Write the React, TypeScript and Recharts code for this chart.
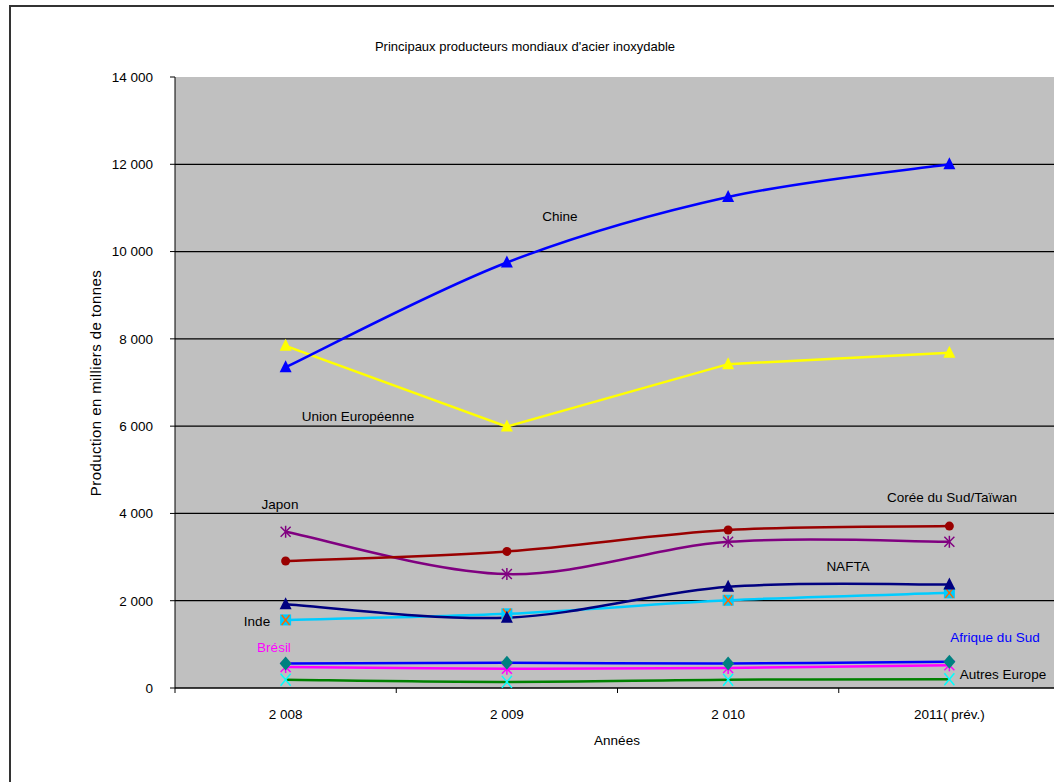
import { LineChart, Line, XAxis, YAxis, CartesianGrid } from 'recharts';

const YEARS = ['2 008', '2 009', '2 010', '2011( prév.)'];
const Y_TICKS = [0, 2000, 4000, 6000, 8000, 10000, 12000, 14000];

const chine = [7350, 9750, 11250, 12000];
const unionEuropeenne = [7840, 5990, 7420, 7680];
const coreeTaiwan = [2910, 3130, 3620, 3710];
const japon = [3580, 2610, 3350, 3350];
const nafta = [1920, 1610, 2320, 2370];
const inde = [1560, 1700, 2010, 2180];
const afriqueSud = [560, 580, 560, 600];
const bresil = [480, 440, 460, 520];
const autresEurope = [190, 140, 190, 200];

const data = YEARS.map((label, i) => ({
  i,
  label,
  chine: chine[i],
  ue: unionEuropeenne[i],
  coree: coreeTaiwan[i],
  japon: japon[i],
  nafta: nafta[i],
  inde: inde[i],
  afrique: afriqueSud[i],
  bresil: bresil[i],
  autres: autresEurope[i],
}));

const FONT = '"Liberation Sans", Arial, sans-serif';
const FS = 13.5;

const fmt = (v: number) => (v >= 1000 ? `${Math.floor(v / 1000)} ${String(v % 1000).padStart(3, '0')}` : String(v));

// Excel-like smoothed line (catmull-rom style bezier), used as a d3 curve factory
const excelSmooth = (ctx: any) => {
  let pts: number[][] = [];
  return {
    areaStart() {},
    areaEnd() {},
    lineStart() {
      pts = [];
    },
    point(x: number, y: number) {
      pts.push([+x, +y]);
    },
    lineEnd() {
      if (!pts.length) return;
      ctx.moveTo(pts[0][0], pts[0][1]);
      const t = 1 / 6;
      for (let k = 0; k < pts.length - 1; k++) {
        const p0 = pts[Math.max(k - 1, 0)];
        const p1 = pts[k];
        const p2 = pts[k + 1];
        const p3 = pts[Math.min(k + 2, pts.length - 1)];
        ctx.bezierCurveTo(
          p1[0] + (p2[0] - p0[0]) * t,
          p1[1] + (p2[1] - p0[1]) * t,
          p2[0] - (p3[0] - p1[0]) * t,
          p2[1] - (p3[1] - p1[1]) * t,
          p2[0],
          p2[1],
        );
      }
    },
  };
};

// marker shapes, roughly like the old Excel ones
const triangle = (fill: string) => (p: any) => (
  <polygon key={p.key} points={`${p.cx},${p.cy - 7} ${p.cx - 6},${p.cy + 5} ${p.cx + 6},${p.cy + 5}`} fill={fill} />
);
const circle = (fill: string) => (p: any) => <circle key={p.key} cx={p.cx} cy={p.cy} r={4.5} fill={fill} />;
const asterisk = (stroke: string) => (p: any) => (
  <g key={p.key} stroke={stroke} strokeWidth={1.5}>
    <line x1={p.cx - 5} y1={p.cy - 5} x2={p.cx + 5} y2={p.cy + 5} />
    <line x1={p.cx - 5} y1={p.cy + 5} x2={p.cx + 5} y2={p.cy - 5} />
    <line x1={p.cx} y1={p.cy - 6} x2={p.cx} y2={p.cy + 6} />
  </g>
);
const squareX = (fill: string, stroke: string) => (p: any) => (
  <g key={p.key}>
    <rect x={p.cx - 5.5} y={p.cy - 5.5} width={11} height={11} fill={fill} />
    <g stroke={stroke} strokeWidth={1.5}>
      <line x1={p.cx - 4} y1={p.cy - 5} x2={p.cx + 4} y2={p.cy + 5} />
      <line x1={p.cx - 4} y1={p.cy + 5} x2={p.cx + 4} y2={p.cy - 5} />
    </g>
  </g>
);
const diamond = (fill: string) => (p: any) => (
  <polygon key={p.key} points={`${p.cx},${p.cy - 7} ${p.cx + 6},${p.cy} ${p.cx},${p.cy + 7} ${p.cx - 6},${p.cy}`} fill={fill} />
);
const cross = (stroke: string) => (p: any) => (
  <g key={p.key} stroke={stroke} strokeWidth={1.5}>
    <line x1={p.cx - 5} y1={p.cy - 6} x2={p.cx + 5} y2={p.cy + 6} />
    <line x1={p.cx - 5} y1={p.cy + 6} x2={p.cx + 5} y2={p.cy - 6} />
  </g>
);

const XTick = (props: any) => {
  const { x, y, payload } = props;
  const v = payload.value;
  if (!Number.isInteger(v)) {
    return <line x1={x} x2={x} y1={y} y2={y + 5} stroke="#000" />;
  }
  return (
    <text x={x} y={y + 31} textAnchor="middle" fontSize={FS} fill="#000" fontFamily={FONT}>
      {YEARS[v]}
    </text>
  );
};

const note = (text: string, x: number, y: number, color = '#000', size = FS) => (
  <div
    style={{
      position: 'absolute',
      left: x,
      top: y,
      transform: 'translate(-50%, -50%)',
      whiteSpace: 'nowrap',
      fontFamily: FONT,
      fontSize: size,
      color,
    }}
  >
    {text}
  </div>
);

export default function App() {
  return (
    <div style={{ position: 'absolute', left: 0, top: 0, width: 1054, height: 782, overflow: 'hidden', background: '#fff' }}>
      <div style={{ position: 'absolute', left: 9, top: 5, width: 1100, height: 820, border: '2px solid #333' }} />
      <div style={{ position: 'absolute', left: 0, top: 0 }}>
        <LineChart width={1080} height={782} data={data} margin={{ top: 77, right: 20, bottom: 64, left: 115 }}>
          <CartesianGrid
            vertical={false}
            horizontalValues={[2000, 4000, 6000, 8000, 10000, 12000]}
            stroke="#000"
            strokeWidth={1.2}
            fill="#c0c0c0"
          />
          <XAxis
            dataKey="i"
            type="number"
            domain={[-0.5, 3.5]}
            ticks={[-0.5, 0, 0.5, 1, 1.5, 2, 2.5, 3, 3.5]}
            tick={<XTick />}
            tickLine={false}
            tickSize={0}
            tickMargin={0}
            axisLine={{ stroke: '#000', strokeWidth: 1.5 }}
            height={30}
            interval={0}
          />
          <YAxis
            domain={[0, 14000]}
            ticks={Y_TICKS}
            tickFormatter={fmt}
            width={60}
            tickSize={5}
            tickMargin={17}
            axisLine={{ stroke: '#000' }}
            tickLine={{ stroke: '#000' }}
            tick={{ fontSize: FS, fill: '#000', fontFamily: FONT }}
            interval={0}
          />
          <Line dataKey="autres" type={excelSmooth} stroke="#008000" strokeWidth={2.5} dot={cross('#00ffff')} isAnimationActive={false} />
          <Line dataKey="bresil" type={excelSmooth} stroke="#ff00ff" strokeWidth={2.5} dot={asterisk('#ff00ff')} isAnimationActive={false} />
          <Line dataKey="afrique" type={excelSmooth} stroke="#0000ff" strokeWidth={2.5} dot={diamond('#008080')} isAnimationActive={false} />
          <Line dataKey="inde" type={excelSmooth} stroke="#00ccff" strokeWidth={2.5} dot={squareX('#00ccff', '#ff6600')} isAnimationActive={false} />
          <Line dataKey="nafta" type={excelSmooth} stroke="#000080" strokeWidth={2.5} dot={triangle('#000080')} isAnimationActive={false} />
          <Line dataKey="japon" type={excelSmooth} stroke="#800080" strokeWidth={2.5} dot={asterisk('#800080')} isAnimationActive={false} />
          <Line dataKey="coree" type={excelSmooth} stroke="#990000" strokeWidth={2.5} dot={circle('#990000')} isAnimationActive={false} />
          <Line dataKey="ue" type="linear" stroke="#ffff00" strokeWidth={2.5} dot={triangle('#ffff00')} isAnimationActive={false} />
          <Line dataKey="chine" type={excelSmooth} stroke="#0000ff" strokeWidth={2.5} dot={triangle('#0000ff')} isAnimationActive={false} />
        </LineChart>
      </div>
      {note("Principaux producteurs mondiaux d'acier inoxydable", 525, 46, '#000', 13)}
      {note('Années', 617, 740)}
      <div
        style={{
          position: 'absolute',
          left: 95,
          top: 383,
          transform: 'translate(-50%, -50%) rotate(-90deg)',
          whiteSpace: 'nowrap',
          fontFamily: FONT,
          fontSize: 15,
          letterSpacing: 0.4,
        }}
      >
        Production en milliers de tonnes
      </div>
      {note('Chine', 560, 216)}
      {note('Union Européenne', 358, 416)}
      {note('Japon', 280, 504)}
      {note('Corée du Sud/Taïwan', 952, 497)}
      {note('NAFTA', 848, 566)}
      {note('Inde', 257, 621)}
      {note('Brésil', 274, 647, '#ff00ff')}
      {note('Afrique du Sud', 995, 637, '#0000ff')}
      {note('Autres Europe', 1003, 674)}
    </div>
  );
}
